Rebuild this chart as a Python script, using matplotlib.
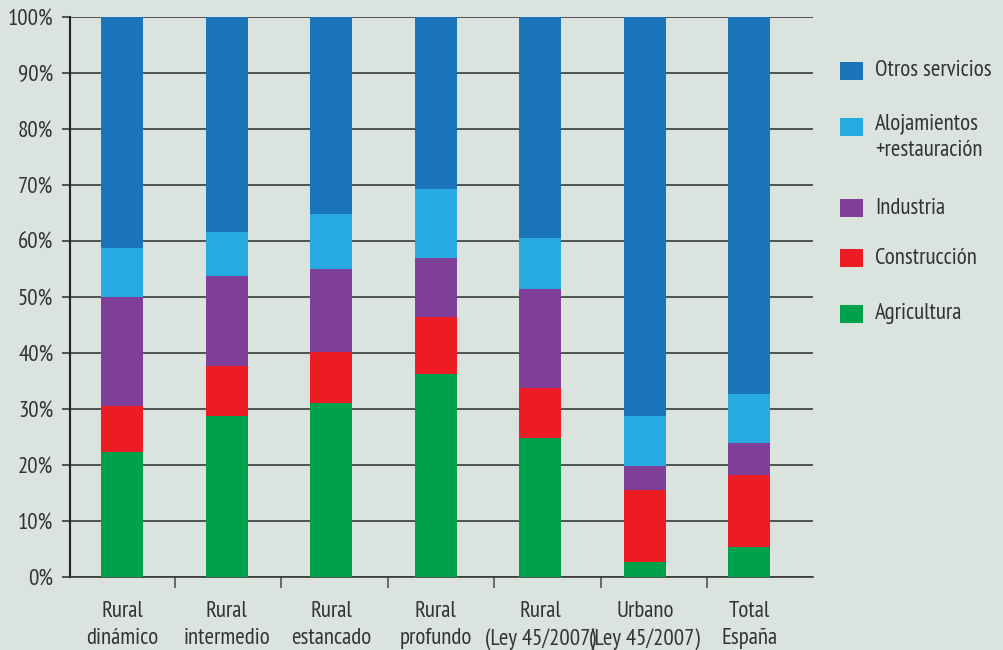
import matplotlib
matplotlib.use("Agg")
import matplotlib.pyplot as plt
from matplotlib import font_manager as fm
from matplotlib.patches import Rectangle
import numpy as np

categories = ["Rural\ndinámico", "Rural\nintermedio", "Rural\nestancado", "Rural\nprofundo",
              "Rural\n(Ley 45/2007)", "Urbano\n(Ley 45/2007)", "Total\nEspaña"]
series_names = ["Agricultura", "Construcción", "Industria", "Alojamientos\n+restauración", "Otros servicios"]
agricultura = [22.3, 28.8, 31.1, 36.3, 24.8, 2.7, 5.3]
construccion = [8.2, 8.9, 9.1, 10.1, 8.95, 12.8, 12.9]
industria = [19.5, 16.05, 14.8, 10.6, 17.65, 4.3, 5.7]
alojamientos = [8.75, 7.85, 9.8, 12.3, 9.1, 8.95, 8.8]
otros = [41.25, 38.4, 35.2, 30.7, 39.5, 71.25, 67.3]
yticks = [0, 10, 20, 30, 40, 50, 60, 70, 80, 90, 100]
ytick_labels = [f"{v}%" for v in yticks]

colors = ["#00A14B", "#ED1C24", "#7F3F98", "#27AAE1", "#1B75BB"]
bg = "#DAE3DE"
txt = "#333333"

available = {f.name for f in fm.fontManager.ttflist}
chosen, FS = "DejaVu Sans", 12
for cand, size in [("PT Sans Narrow", 16.5), ("Barlow Condensed", 16.5), ("Sofia Sans Condensed", 16.5),
                   ("Archivo Narrow", 15.5), ("Roboto Condensed", 15)]:
    if cand in available:
        chosen, FS = cand, size
        break
plt.rcParams["font.family"] = [chosen, "DejaVu Sans"]

fig = plt.figure(figsize=(10.04, 6.5), dpi=100, facecolor=bg)
ax = fig.add_axes([70/1004, 73/650, (813-70)/1004, 560/650])
ax.set_facecolor(bg)

x = np.arange(len(categories))
data = [agricultura, construccion, industria, alojamientos, otros]
bottom = np.zeros(len(categories))
for vals, c, name in zip(data, colors, series_names):
    ax.bar(x, vals, width=0.4, bottom=bottom, color=c, label=name, zorder=3, linewidth=0)
    bottom += np.array(vals)

ax.set_ylim(0, 100)
ax.set_xlim(-0.5, 6.61)
ax.set_yticks(yticks)
ax.set_yticklabels(ytick_labels, fontsize=FS, color=txt)
ax.yaxis.grid(True, color="#3a3a3a", linewidth=1.2, zorder=0)
ax.set_axisbelow(True)
ax.tick_params(axis="y", length=6, width=1.2, color="#3a3a3a", pad=6)

ax.set_xticks(x)
ax.set_xticklabels(categories, fontsize=FS, color=txt, linespacing=1.4)
ax.tick_params(axis="x", which="major", length=0, pad=17)
ax.set_xticks(x[:-1] + 0.5 + 0.02 * x[:-1], minor=True)
ax.tick_params(axis="x", which="minor", length=8, width=1.2, color="#555555", direction="out")

for s in ["top", "right"]:
    ax.spines[s].set_visible(False)
ax.spines["left"].set_color("#222222")
ax.spines["left"].set_linewidth(1.5)
ax.spines["bottom"].set_color("#3a3a3a")
ax.spines["bottom"].set_linewidth(1.2)

# Manual legend (top to bottom: reversed series order)
leg_y = [71, 127, 208, 258, 314]
for name, c, yc in zip(series_names[::-1], colors[::-1], leg_y):
    fig.patches.append(Rectangle((840/1004, 1 - (yc + 9)/650), 23/1004, 18/650,
                                 transform=fig.transFigure, facecolor=c, edgecolor="none"))
    if "\n" in name:
        fig.text(875/1004, 1 - (yc - 14)/650, name, fontsize=FS, color=txt, va="top",
                 ha="left", linespacing=1.4)
    else:
        fig.text(875/1004, 1 - yc/650, name, fontsize=FS, color=txt, va="center", ha="left")

fig.savefig("out.png", dpi=100, facecolor=bg)
